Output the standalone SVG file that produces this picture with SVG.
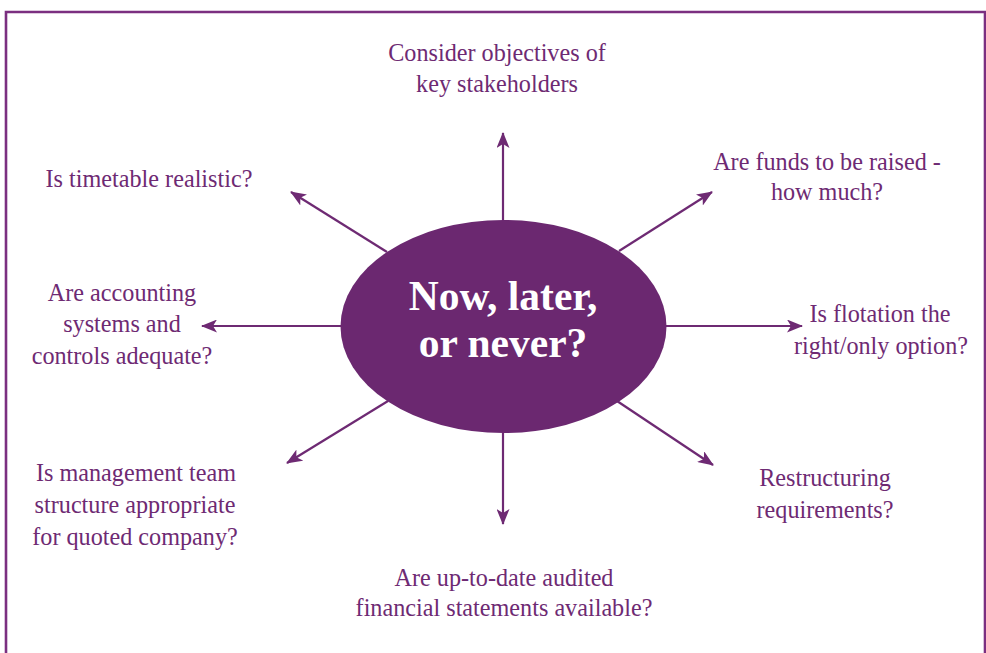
<svg xmlns="http://www.w3.org/2000/svg" width="986" height="653" viewBox="0 0 986 653">
<defs>
<style>
.lbl{font-family:"Liberation Serif","Times New Roman",serif;font-size:24.2px;fill:#6e2a73;text-anchor:middle}
.ctr{font-family:"Liberation Serif","Times New Roman",serif;font-size:41.5px;font-weight:bold;fill:#ffffff;text-anchor:middle}
.con{stroke:#6e2a73;stroke-width:2.2;fill:none;marker-end:url(#ah)}
</style>
<marker id="ah" viewBox="0 0 16 13" refX="15" refY="6.5" markerWidth="16" markerHeight="13" markerUnits="userSpaceOnUse" orient="auto">
<path d="M0,0 L16,6.5 L0,13 L4,6.5 Z" fill="#6e2a73"/>
</marker>
</defs>
<rect width="986" height="653" fill="#ffffff"/>
<path d="M6,660 L6,12 L985,12 L985,660" fill="none" stroke="#7b2f80" stroke-width="2.6"/>
<g id="connectors">
<line class="con" x1="503" y1="221" x2="503" y2="133"/>
<line class="con" x1="387" y1="252" x2="291" y2="192"/>
<line class="con" x1="619" y1="251" x2="712" y2="192"/>
<line class="con" x1="341" y1="326" x2="202" y2="326"/>
<line class="con" x1="666" y1="326" x2="802" y2="326"/>
<line class="con" x1="388" y1="401" x2="287" y2="463"/>
<line class="con" x1="617" y1="401" x2="713" y2="465"/>
<line class="con" x1="503" y1="432" x2="503" y2="524"/>
</g>
<g id="center">
<ellipse cx="503.5" cy="326.5" rx="163" ry="106.5" fill="#6b2870"/>
<text class="ctr" x="503" y="310">Now, later,</text>
<text class="ctr" x="503" y="357">or never?</text>
</g>
<g id="n-stakeholders">
<text class="lbl" x="497" y="61">Consider objectives of</text>
<text class="lbl" x="497" y="92">key stakeholders</text>
</g>
<g id="n-timetable">
<text class="lbl" x="149" y="187">Is timetable realistic?</text>
</g>
<g id="n-funds">
<text class="lbl" x="827" y="170">Are funds to be raised -</text>
<text class="lbl" x="827" y="200">how much?</text>
</g>
<g id="n-accounting">
<text class="lbl" x="122" y="301">Are accounting</text>
<text class="lbl" x="122" y="332">systems and</text>
<text class="lbl" x="122" y="364">controls adequate?</text>
</g>
<g id="n-flotation">
<text class="lbl" x="880" y="322">Is flotation the</text>
<text class="lbl" x="881" y="354">right/only option?</text>
</g>
<g id="n-management">
<text class="lbl" x="136" y="481">Is management team</text>
<text class="lbl" x="135" y="513">structure appropriate</text>
<text class="lbl" x="135" y="545">for quoted company?</text>
</g>
<g id="n-restructuring">
<text class="lbl" x="825" y="486">Restructuring</text>
<text class="lbl" x="825" y="518">requirements?</text>
</g>
<g id="n-audited">
<text class="lbl" x="504" y="586">Are up-to-date audited</text>
<text class="lbl" x="504" y="616">financial statements available?</text>
</g>
</svg>
